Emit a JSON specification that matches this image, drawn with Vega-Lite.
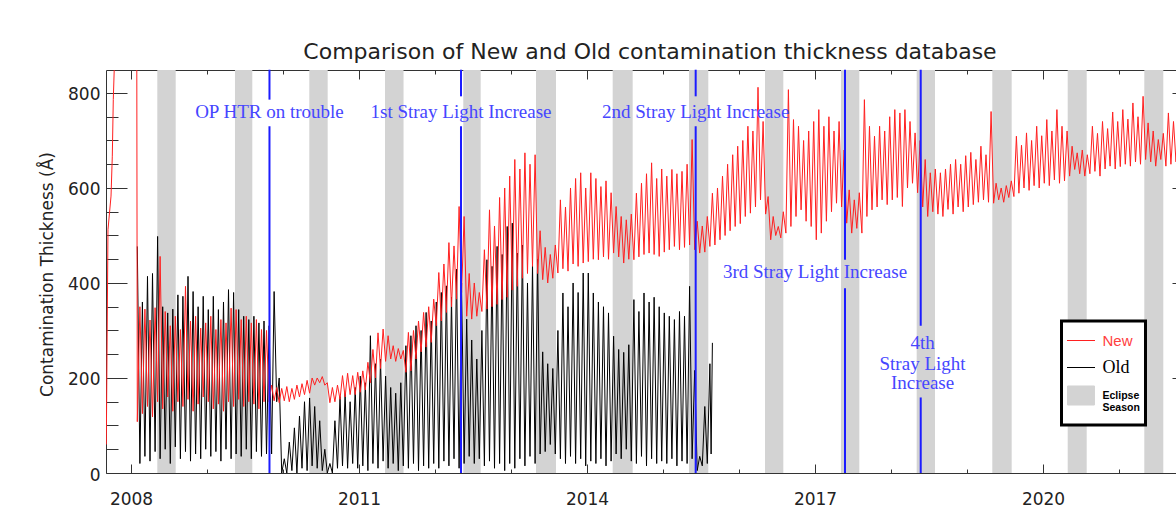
{
"$schema":"https://vega.github.io/schema/vega-lite/v6.json",
"width":1070,"height":403,
"autosize":{"type":"none"},
"padding":{"left":106,"top":70,"right":0,"bottom":40},
"background":"white",
"title":{"text":"Comparison of New and Old contamination thickness database","font":"DejaVu Sans","fontSize":22,"fontWeight":"normal","color":"#222222","anchor":"middle","dx":9,"offset":-12,"baseline":"alphabetic"},
"datasets":{
"bands":[{"a":2008.346,"b":2008.588},{"a":2009.368,"b":2009.596},{"a":2010.346,"b":2010.588},{"a":2011.342,"b":2011.586},{"a":2012.372,"b":2012.601},{"a":2013.329,"b":2013.592},{"a":2014.338,"b":2014.601},{"a":2015.342,"b":2015.596},{"a":2016.342,"b":2016.583},{"a":2017.342,"b":2017.583},{"a":2018.338,"b":2018.579},{"a":2019.333,"b":2019.588},{"a":2020.325,"b":2020.575},{"a":2021.333,"b":2021.583}],
"ev":[{"t":2009.822,"y1":0,"y2":730},{"t":2009.822,"y1":786,"y2":849},{"t":2012.342,"y1":0,"y2":730},{"t":2012.342,"y1":793,"y2":849},{"t":2015.43,"y1":0,"y2":730},{"t":2015.43,"y1":793,"y2":849},{"t":2017.395,"y1":0,"y2":389},{"t":2017.395,"y1":449,"y2":849},{"t":2018.391,"y1":0,"y2":159},{"t":2018.391,"y1":310,"y2":849}],
"lab":[{"t":2009.822,"v":747,"label":"OP HTR on trouble"},{"t":2012.342,"v":747,"label":"1st Stray Light Increase"},{"t":2015.43,"v":747,"label":"2nd Stray Light Increase"},{"t":2017.0,"v":410,"label":"3rd Stray Light Increase"},{"t":2018.415,"v":261,"label":"4th"},{"t":2018.415,"v":217,"label":"Stray Light"},{"t":2018.415,"v":177,"label":"Increase"}],
"old":[
{"t":2008.083,"v":477},{"t":2008.117,"v":20},{"t":2008.15,"v":360},{"t":2008.183,"v":35},{"t":2008.217,"v":414},{"t":2008.25,"v":25},{"t":2008.283,"v":420},{"t":2008.317,"v":45},{"t":2008.35,"v":498},{"t":2008.383,"v":30},{"t":2008.417,"v":350},{"t":2008.45,"v":50},{"t":2008.483,"v":337},{"t":2008.517,"v":20},{"t":2008.55,"v":345},{"t":2008.583,"v":55},{"t":2008.617,"v":375},{"t":2008.65,"v":30},{"t":2008.683,"v":372},{"t":2008.717,"v":45},{"t":2008.75,"v":414},{"t":2008.783,"v":25},{"t":2008.817,"v":382},{"t":2008.85,"v":40},{"t":2008.883,"v":350},{"t":2008.917,"v":30},{"t":2008.95,"v":372},{"t":2008.983,"v":50},
{"t":2009.017,"v":344},{"t":2009.05,"v":35},{"t":2009.083,"v":372},{"t":2009.117,"v":45},{"t":2009.15,"v":344},{"t":2009.183,"v":25},{"t":2009.217,"v":360},{"t":2009.25,"v":50},{"t":2009.283,"v":386},{"t":2009.317,"v":30},{"t":2009.35,"v":380},{"t":2009.383,"v":40},{"t":2009.417,"v":344},{"t":2009.45,"v":35},{"t":2009.483,"v":330},{"t":2009.517,"v":50},{"t":2009.55,"v":323},{"t":2009.583,"v":30},{"t":2009.617,"v":330},{"t":2009.65,"v":45},{"t":2009.683,"v":316},{"t":2009.717,"v":35},{"t":2009.75,"v":320},{"t":2009.783,"v":40},{"t":2009.817,"v":310},{"t":2009.85,"v":40},{"t":2009.883,"v":382},{"t":2009.917,"v":150},{"t":2009.95,"v":200},{"t":2009.983,"v":0},
{"t":2010.017,"v":30},{"t":2010.05,"v":0},{"t":2010.083,"v":65},{"t":2010.117,"v":5},{"t":2010.15,"v":95},{"t":2010.183,"v":0},{"t":2010.217,"v":120},{"t":2010.25,"v":10},{"t":2010.283,"v":150},{"t":2010.317,"v":5},{"t":2010.35,"v":158},{"t":2010.383,"v":15},{"t":2010.417,"v":140},{"t":2010.45,"v":10},{"t":2010.483,"v":110},{"t":2010.517,"v":5},{"t":2010.55,"v":50},{"t":2010.583,"v":0},{"t":2010.617,"v":20},{"t":2010.65,"v":0},{"t":2010.683,"v":110},{"t":2010.717,"v":10},{"t":2010.75,"v":161},{"t":2010.783,"v":15},{"t":2010.817,"v":168},{"t":2010.85,"v":10},{"t":2010.883,"v":150},{"t":2010.917,"v":20},{"t":2010.95,"v":180},{"t":2010.983,"v":10},
{"t":2011.017,"v":204},{"t":2011.05,"v":15},{"t":2011.083,"v":190},{"t":2011.117,"v":5},{"t":2011.15,"v":289},{"t":2011.183,"v":20},{"t":2011.217,"v":230},{"t":2011.25,"v":10},{"t":2011.283,"v":240},{"t":2011.317,"v":25},{"t":2011.35,"v":204},{"t":2011.383,"v":10},{"t":2011.417,"v":180},{"t":2011.45,"v":20},{"t":2011.483,"v":168},{"t":2011.517,"v":5},{"t":2011.55,"v":190},{"t":2011.583,"v":15},{"t":2011.617,"v":268},{"t":2011.65,"v":10},{"t":2011.683,"v":289},{"t":2011.717,"v":20},{"t":2011.75,"v":310},{"t":2011.783,"v":5},{"t":2011.817,"v":300},{"t":2011.85,"v":15},{"t":2011.883,"v":338},{"t":2011.917,"v":10},{"t":2011.95,"v":320},{"t":2011.983,"v":20},
{"t":2012.017,"v":360},{"t":2012.05,"v":10},{"t":2012.083,"v":380},{"t":2012.117,"v":25},{"t":2012.15,"v":394},{"t":2012.183,"v":15},{"t":2012.217,"v":370},{"t":2012.25,"v":30},{"t":2012.283,"v":429},{"t":2012.317,"v":10},{"t":2012.35,"v":400},{"t":2012.383,"v":20},{"t":2012.417,"v":324},{"t":2012.45,"v":35},{"t":2012.483,"v":280},{"t":2012.517,"v":20},{"t":2012.55,"v":240},{"t":2012.583,"v":30},{"t":2012.617,"v":300},{"t":2012.65,"v":15},{"t":2012.683,"v":449},{"t":2012.717,"v":25},{"t":2012.75,"v":435},{"t":2012.783,"v":10},{"t":2012.817,"v":477},{"t":2012.85,"v":20},{"t":2012.883,"v":460},{"t":2012.917,"v":5},{"t":2012.95,"v":519},{"t":2012.983,"v":20},
{"t":2013.017,"v":526},{"t":2013.05,"v":10},{"t":2013.083,"v":463},{"t":2013.117,"v":30},{"t":2013.15,"v":480},{"t":2013.183,"v":15},{"t":2013.217,"v":400},{"t":2013.25,"v":35},{"t":2013.283,"v":440},{"t":2013.317,"v":20},{"t":2013.35,"v":450},{"t":2013.383,"v":40},{"t":2013.417,"v":255},{"t":2013.45,"v":45},{"t":2013.483,"v":230},{"t":2013.517,"v":60},{"t":2013.55,"v":220},{"t":2013.583,"v":40},{"t":2013.617,"v":300},{"t":2013.65,"v":30},{"t":2013.683,"v":379},{"t":2013.717,"v":20},{"t":2013.75,"v":350},{"t":2013.783,"v":35},{"t":2013.817,"v":400},{"t":2013.85,"v":20},{"t":2013.883,"v":380},{"t":2013.917,"v":30},{"t":2013.95,"v":421},{"t":2013.983,"v":15},
{"t":2014.017,"v":421},{"t":2014.05,"v":25},{"t":2014.083,"v":379},{"t":2014.117,"v":20},{"t":2014.15,"v":360},{"t":2014.183,"v":30},{"t":2014.217,"v":350},{"t":2014.25,"v":15},{"t":2014.283,"v":337},{"t":2014.317,"v":25},{"t":2014.35,"v":288},{"t":2014.383,"v":40},{"t":2014.417,"v":260},{"t":2014.45,"v":30},{"t":2014.483,"v":254},{"t":2014.517,"v":50},{"t":2014.55,"v":270},{"t":2014.583,"v":25},{"t":2014.617,"v":365},{"t":2014.65,"v":20},{"t":2014.683,"v":340},{"t":2014.717,"v":35},{"t":2014.75,"v":379},{"t":2014.783,"v":15},{"t":2014.817,"v":360},{"t":2014.85,"v":30},{"t":2014.883,"v":370},{"t":2014.917,"v":20},{"t":2014.95,"v":350},{"t":2014.983,"v":25},
{"t":2015.017,"v":337},{"t":2015.05,"v":20},{"t":2015.083,"v":330},{"t":2015.117,"v":30},{"t":2015.15,"v":323},{"t":2015.183,"v":15},{"t":2015.217,"v":340},{"t":2015.25,"v":25},{"t":2015.283,"v":330},{"t":2015.317,"v":20},{"t":2015.35,"v":393},{"t":2015.383,"v":30},{"t":2015.417,"v":216},{"t":2015.45,"v":5},{"t":2015.483,"v":35},{"t":2015.517,"v":15},{"t":2015.55,"v":140},{"t":2015.583,"v":20},{"t":2015.617,"v":230},{"t":2015.633,"v":40},{"t":2015.65,"v":274}
],
"new":[
{"t":2007.675,"v":60},{"t":2007.697,"v":512},{"t":2007.737,"v":583},{"t":2007.754,"v":667},{"t":2007.767,"v":786},{"t":2007.785,"v":880},{"t":2007.85,"v":960},{"t":2008.075,"v":990},
{"t":2008.083,"v":108},{"t":2008.117,"v":350},{"t":2008.15,"v":125},{"t":2008.183,"v":345},{"t":2008.217,"v":140},{"t":2008.25,"v":322},{"t":2008.283,"v":118},{"t":2008.317,"v":348},{"t":2008.35,"v":150},{"t":2008.383,"v":456},{"t":2008.417,"v":135},{"t":2008.45,"v":340},{"t":2008.483,"v":160},{"t":2008.517,"v":310},{"t":2008.55,"v":130},{"t":2008.583,"v":330},{"t":2008.617,"v":150},{"t":2008.65,"v":302},{"t":2008.683,"v":140},{"t":2008.717,"v":393},{"t":2008.75,"v":155},{"t":2008.783,"v":320},{"t":2008.817,"v":130},{"t":2008.85,"v":330},{"t":2008.883,"v":145},{"t":2008.917,"v":305},{"t":2008.95,"v":160},{"t":2008.983,"v":316},
{"t":2009.017,"v":150},{"t":2009.05,"v":330},{"t":2009.083,"v":135},{"t":2009.117,"v":302},{"t":2009.15,"v":145},{"t":2009.183,"v":323},{"t":2009.217,"v":130},{"t":2009.25,"v":316},{"t":2009.283,"v":150},{"t":2009.317,"v":347},{"t":2009.35,"v":140},{"t":2009.383,"v":344},{"t":2009.417,"v":155},{"t":2009.45,"v":323},{"t":2009.483,"v":140},{"t":2009.517,"v":330},{"t":2009.55,"v":150},{"t":2009.583,"v":316},{"t":2009.617,"v":145},{"t":2009.65,"v":323},{"t":2009.683,"v":135},{"t":2009.717,"v":302},{"t":2009.75,"v":150},{"t":2009.783,"v":300},{"t":2009.817,"v":150},{"t":2009.85,"v":185},{"t":2009.883,"v":152},{"t":2009.917,"v":180},{"t":2009.95,"v":148},{"t":2009.983,"v":178},
{"t":2010.017,"v":152},{"t":2010.05,"v":182},{"t":2010.083,"v":150},{"t":2010.117,"v":178},{"t":2010.15,"v":155},{"t":2010.183,"v":185},{"t":2010.217,"v":160},{"t":2010.25,"v":188},{"t":2010.283,"v":165},{"t":2010.317,"v":195},{"t":2010.35,"v":168},{"t":2010.383,"v":200},{"t":2010.417,"v":185},{"t":2010.45,"v":200},{"t":2010.483,"v":190},{"t":2010.517,"v":203},{"t":2010.55,"v":185},{"t":2010.583,"v":190},{"t":2010.617,"v":148},{"t":2010.65,"v":180},{"t":2010.683,"v":150},{"t":2010.717,"v":185},{"t":2010.75,"v":155},{"t":2010.783,"v":205},{"t":2010.817,"v":160},{"t":2010.85,"v":210},{"t":2010.883,"v":165},{"t":2010.917,"v":205},{"t":2010.95,"v":165},{"t":2010.983,"v":212},
{"t":2011.017,"v":170},{"t":2011.05,"v":215},{"t":2011.083,"v":175},{"t":2011.117,"v":233},{"t":2011.15,"v":190},{"t":2011.183,"v":260},{"t":2011.217,"v":200},{"t":2011.25,"v":295},{"t":2011.283,"v":220},{"t":2011.317,"v":303},{"t":2011.35,"v":235},{"t":2011.383,"v":289},{"t":2011.417,"v":240},{"t":2011.45,"v":268},{"t":2011.483,"v":235},{"t":2011.517,"v":262},{"t":2011.55,"v":240},{"t":2011.583,"v":258},{"t":2011.617,"v":212},{"t":2011.65,"v":296},{"t":2011.683,"v":215},{"t":2011.717,"v":300},{"t":2011.75,"v":240},{"t":2011.783,"v":320},{"t":2011.817,"v":255},{"t":2011.85,"v":338},{"t":2011.883,"v":265},{"t":2011.917,"v":350},{"t":2011.95,"v":275},{"t":2011.983,"v":366},
{"t":2012.017,"v":310},{"t":2012.05,"v":422},{"t":2012.083,"v":320},{"t":2012.117,"v":440},{"t":2012.15,"v":338},{"t":2012.183,"v":485},{"t":2012.217,"v":350},{"t":2012.25,"v":478},{"t":2012.283,"v":366},{"t":2012.317,"v":561},{"t":2012.35,"v":380},{"t":2012.383,"v":540},{"t":2012.417,"v":330},{"t":2012.45,"v":420},{"t":2012.483,"v":324},{"t":2012.517,"v":400},{"t":2012.55,"v":330},{"t":2012.583,"v":380},{"t":2012.617,"v":340},{"t":2012.65,"v":470},{"t":2012.683,"v":345},{"t":2012.717,"v":554},{"t":2012.75,"v":350},{"t":2012.783,"v":520},{"t":2012.817,"v":355},{"t":2012.85,"v":580},{"t":2012.883,"v":365},{"t":2012.917,"v":600},{"t":2012.95,"v":370},{"t":2012.983,"v":625},
{"t":2013.017,"v":385},{"t":2013.05,"v":660},{"t":2013.083,"v":393},{"t":2013.117,"v":640},{"t":2013.15,"v":410},{"t":2013.183,"v":674},{"t":2013.217,"v":420},{"t":2013.25,"v":650},{"t":2013.283,"v":435},{"t":2013.317,"v":670},{"t":2013.35,"v":420},{"t":2013.383,"v":510},{"t":2013.417,"v":407},{"t":2013.45,"v":475},{"t":2013.483,"v":400},{"t":2013.517,"v":460},{"t":2013.55,"v":410},{"t":2013.583,"v":480},{"t":2013.617,"v":421},{"t":2013.65,"v":575},{"t":2013.683,"v":430},{"t":2013.717,"v":560},{"t":2013.75,"v":425},{"t":2013.783,"v":600},{"t":2013.817,"v":440},{"t":2013.85,"v":620},{"t":2013.883,"v":435},{"t":2013.917,"v":632},{"t":2013.95,"v":442},{"t":2013.983,"v":600},
{"t":2014.017,"v":445},{"t":2014.05,"v":632},{"t":2014.083,"v":450},{"t":2014.117,"v":620},{"t":2014.15,"v":449},{"t":2014.183,"v":603},{"t":2014.217,"v":455},{"t":2014.25,"v":615},{"t":2014.283,"v":450},{"t":2014.317,"v":590},{"t":2014.35,"v":463},{"t":2014.383,"v":561},{"t":2014.417,"v":455},{"t":2014.45,"v":540},{"t":2014.483,"v":442},{"t":2014.517,"v":533},{"t":2014.55,"v":450},{"t":2014.583,"v":545},{"t":2014.617,"v":449},{"t":2014.65,"v":589},{"t":2014.683,"v":455},{"t":2014.717,"v":610},{"t":2014.75,"v":460},{"t":2014.783,"v":630},{"t":2014.817,"v":463},{"t":2014.85,"v":653},{"t":2014.883,"v":460},{"t":2014.917,"v":620},{"t":2014.95,"v":456},{"t":2014.983,"v":640},
{"t":2015.017,"v":465},{"t":2015.05,"v":625},{"t":2015.083,"v":470},{"t":2015.117,"v":639},{"t":2015.15,"v":477},{"t":2015.183,"v":630},{"t":2015.217,"v":470},{"t":2015.25,"v":635},{"t":2015.283,"v":475},{"t":2015.317,"v":650},{"t":2015.35,"v":480},{"t":2015.383,"v":702},{"t":2015.417,"v":470},{"t":2015.45,"v":530},{"t":2015.483,"v":463},{"t":2015.517,"v":520},{"t":2015.55,"v":465},{"t":2015.583,"v":540},{"t":2015.617,"v":477},{"t":2015.65,"v":589},{"t":2015.683,"v":480},{"t":2015.717,"v":600},{"t":2015.75,"v":491},{"t":2015.783,"v":625},{"t":2015.817,"v":500},{"t":2015.85,"v":650},{"t":2015.883,"v":510},{"t":2015.917,"v":670},{"t":2015.95,"v":519},{"t":2015.983,"v":688},
{"t":2016.017,"v":525},{"t":2016.05,"v":700},{"t":2016.083,"v":540},{"t":2016.117,"v":730},{"t":2016.15,"v":547},{"t":2016.183,"v":720},{"t":2016.217,"v":560},{"t":2016.25,"v":812},{"t":2016.283,"v":575},{"t":2016.317,"v":740},{"t":2016.35,"v":545},{"t":2016.383,"v":582},{"t":2016.417,"v":491},{"t":2016.45,"v":540},{"t":2016.483,"v":500},{"t":2016.517,"v":519},{"t":2016.55,"v":495},{"t":2016.583,"v":550},{"t":2016.617,"v":505},{"t":2016.65,"v":807},{"t":2016.683,"v":519},{"t":2016.717,"v":744},{"t":2016.75,"v":540},{"t":2016.783,"v":730},{"t":2016.817,"v":554},{"t":2016.85,"v":700},{"t":2016.883,"v":530},{"t":2016.917,"v":720},{"t":2016.95,"v":519},{"t":2016.983,"v":740},
{"t":2017.017,"v":491},{"t":2017.05,"v":765},{"t":2017.083,"v":505},{"t":2017.117,"v":730},{"t":2017.15,"v":530},{"t":2017.183,"v":750},{"t":2017.217,"v":550},{"t":2017.25,"v":720},{"t":2017.283,"v":568},{"t":2017.317,"v":740},{"t":2017.35,"v":560},{"t":2017.383,"v":680},{"t":2017.417,"v":526},{"t":2017.45,"v":596},{"t":2017.483,"v":505},{"t":2017.517,"v":575},{"t":2017.55,"v":515},{"t":2017.583,"v":590},{"t":2017.617,"v":505},{"t":2017.65,"v":786},{"t":2017.683,"v":540},{"t":2017.717,"v":730},{"t":2017.75,"v":554},{"t":2017.783,"v":709},{"t":2017.817,"v":560},{"t":2017.85,"v":730},{"t":2017.883,"v":575},{"t":2017.917,"v":720},{"t":2017.95,"v":565},{"t":2017.983,"v":750},
{"t":2018.017,"v":575},{"t":2018.05,"v":765},{"t":2018.083,"v":580},{"t":2018.117,"v":758},{"t":2018.15,"v":561},{"t":2018.183,"v":765},{"t":2018.217,"v":600},{"t":2018.25,"v":740},{"t":2018.283,"v":610},{"t":2018.317,"v":716},{"t":2018.35,"v":590},{"t":2018.383,"v":700},{"t":2018.417,"v":560},{"t":2018.45,"v":660},{"t":2018.483,"v":540},{"t":2018.517,"v":632},{"t":2018.55,"v":550},{"t":2018.583,"v":640},{"t":2018.617,"v":545},{"t":2018.65,"v":632},{"t":2018.683,"v":540},{"t":2018.717,"v":640},{"t":2018.75,"v":555},{"t":2018.783,"v":650},{"t":2018.817,"v":545},{"t":2018.85,"v":660},{"t":2018.883,"v":560},{"t":2018.917,"v":650},{"t":2018.95,"v":550},{"t":2018.983,"v":668},
{"t":2019.017,"v":560},{"t":2019.05,"v":675},{"t":2019.083,"v":565},{"t":2019.117,"v":660},{"t":2019.15,"v":570},{"t":2019.183,"v":688},{"t":2019.217,"v":575},{"t":2019.25,"v":670},{"t":2019.283,"v":570},{"t":2019.317,"v":761},{"t":2019.35,"v":568},{"t":2019.383,"v":610},{"t":2019.417,"v":575},{"t":2019.45,"v":600},{"t":2019.483,"v":570},{"t":2019.517,"v":605},{"t":2019.55,"v":580},{"t":2019.583,"v":615},{"t":2019.617,"v":582},{"t":2019.65,"v":709},{"t":2019.683,"v":589},{"t":2019.717,"v":690},{"t":2019.75,"v":600},{"t":2019.783,"v":716},{"t":2019.817,"v":595},{"t":2019.85,"v":700},{"t":2019.883,"v":605},{"t":2019.917,"v":730},{"t":2019.95,"v":600},{"t":2019.983,"v":710},
{"t":2020.017,"v":610},{"t":2020.05,"v":744},{"t":2020.083,"v":605},{"t":2020.117,"v":720},{"t":2020.15,"v":617},{"t":2020.183,"v":765},{"t":2020.217,"v":610},{"t":2020.25,"v":730},{"t":2020.283,"v":615},{"t":2020.317,"v":720},{"t":2020.35,"v":625},{"t":2020.383,"v":688},{"t":2020.417,"v":639},{"t":2020.45,"v":674},{"t":2020.483,"v":630},{"t":2020.517,"v":680},{"t":2020.55,"v":625},{"t":2020.583,"v":670},{"t":2020.617,"v":630},{"t":2020.65,"v":730},{"t":2020.683,"v":635},{"t":2020.717,"v":715},{"t":2020.75,"v":625},{"t":2020.783,"v":740},{"t":2020.817,"v":640},{"t":2020.85,"v":725},{"t":2020.883,"v":646},{"t":2020.917,"v":760},{"t":2020.95,"v":640},{"t":2020.983,"v":740},
{"t":2021.017,"v":645},{"t":2021.05,"v":765},{"t":2021.083,"v":650},{"t":2021.117,"v":745},{"t":2021.15,"v":646},{"t":2021.183,"v":779},{"t":2021.217,"v":655},{"t":2021.25,"v":750},{"t":2021.283,"v":650},{"t":2021.317,"v":793},{"t":2021.35,"v":660},{"t":2021.383,"v":737},{"t":2021.417,"v":655},{"t":2021.45,"v":720},{"t":2021.483,"v":646},{"t":2021.517,"v":702},{"t":2021.55,"v":660},{"t":2021.583,"v":715},{"t":2021.617,"v":646},{"t":2021.65,"v":758},{"t":2021.683,"v":650},{"t":2021.717,"v":740},{"t":2021.75,"v":655},{"t":2021.783,"v":750}
]
},
"resolve":{"axis":{"x":"independent","y":"independent"}},
"layer":[
{"data":{"name":"bands"},"mark":{"type":"rect","color":"#d3d3d3"},
 "encoding":{
  "x":{"field":"a","type":"quantitative","scale":{"domain":[2007.671,2021.75],"nice":false,"zero":false},
   "axis":{"orient":"bottom","values":[2008,2009,2010,2011,2012,2013,2014,2015,2016,2017,2018,2019,2020,2021],"format":"d","labelExpr":"datum.value % 3 === 1 ? datum.label : ''","tickSize":{"condition":{"test":"datum.value % 3 === 1","value":-9},"value":-4},"labelPadding":27,"labelFont":"DejaVu Sans","labelFontSize":17,"labelColor":"#222222","labelBaseline":"top","labelFlush":false,"labelOverlap":false,"domainColor":"#333333","tickColor":"#333333","domainWidth":1,"tickWidth":1,"grid":false,"title":null}},
  "x2":{"field":"b"}}},
{"data":{"name":"old"},"mark":{"type":"line","strokeWidth":1,"clip":true},
 "encoding":{
  "x":{"field":"t","type":"quantitative","scale":{"domain":[2007.671,2021.75],"nice":false,"zero":false},
   "axis":{"orient":"top","values":[2008,2009,2010,2011,2012,2013,2014,2015,2016,2017,2018,2019,2020,2021],"labels":false,"tickSize":{"condition":{"test":"datum.value % 3 === 1","value":-9},"value":-4},"domainColor":"#333333","tickColor":"#333333","domainWidth":1,"tickWidth":1,"grid":false,"title":null}},
  "y":{"field":"v","type":"quantitative","scale":{"domain":[0,848.4],"nice":false,"zero":false},
   "axis":{"orient":"left","values":[0,50,100,150,200,250,300,350,400,450,500,550,600,650,700,750,800],"labelExpr":"datum.value % 200 === 0 ? datum.label : ''","tickSize":{"condition":{"test":"datum.value % 200 === 0","value":-21},"value":-12},"labelPadding":27,"labelFont":"DejaVu Sans","labelFontSize":17,"labelColor":"#222222","labelBaseline":"middle","labelOffset":2,"labelOverlap":false,"domainColor":"#333333","tickColor":"#333333","domainWidth":1,"tickWidth":1,"grid":false,
    "title":"Contamination Thickness (Å)","titleX":-59,"titleY":204,"titleAngle":270,"titleAlign":"center","titleBaseline":"middle","titleFont":"DejaVu Sans","titleFontSize":17,"titleFontWeight":"normal","titleColor":"#222222"}},
  "stroke":{"datum":"Old","type":"nominal","scale":{"domain":["New","Old","Eclipse Season"],"range":["#ff2020","#000000","#d3d3d3"]},
   "legend":{"orient":"none","legendX":955.5,"legendY":251,"title":" ","titleOrient":"bottom","titleFontSize":5,"titlePadding":2,"fillColor":"white","strokeColor":"black","padding":5,"symbolSize":784,"symbolStrokeWidth":1,"labelOffset":7,"rowPadding":4,
    "labelExpr":"datum.label === 'Eclipse Season' ? ['Eclipse','Season'] : datum.label",
    "encode":{
     "legend":{"update":{"strokeWidth":{"value":3}}},
     "symbols":{"update":{"shape":{"signal":"datum.value === 'Eclipse Season' ? 'M-0.96,-0.68H0.96V0.68H-0.96Z' : 'M-1,0H1'"},"fill":{"signal":"datum.value === 'Eclipse Season' ? '#d3d3d3' : 'transparent'"},"stroke":{"signal":"datum.value === 'New' ? '#ff3030' : datum.value === 'Old' ? '#000000' : 'transparent'"},"strokeWidth":{"value":1},"opacity":{"value":1}}},
     "labels":{"update":{"fill":{"signal":"datum.value === 'New' ? '#ff4040' : '#000000'"},"font":{"signal":"datum.value === 'Old' ? 'Liberation Serif' : 'Liberation Sans'"},"fontSize":{"signal":"datum.value === 'New' ? 15 : datum.value === 'Old' ? 18 : 10.5"},"fontWeight":{"signal":"datum.value === 'Eclipse Season' ? 'bold' : 'normal'"},"lineHeight":{"value":12}}}
    }}}}},
{"data":{"name":"new"},"mark":{"type":"line","strokeWidth":1,"clip":true},
 "encoding":{
  "x":{"field":"t","type":"quantitative","scale":{"domain":[2007.671,2021.75],"nice":false,"zero":false},"axis":null},
  "y":{"field":"v","type":"quantitative","scale":{"domain":[0,848.4],"nice":false,"zero":false},
   "axis":{"orient":"right","values":[200,400,600,800],"labels":false,"domain":false,"tickSize":-4,"tickColor":"#333333","tickWidth":1,"grid":false,"title":null}},
  "stroke":{"datum":"New","type":"nominal","scale":{"domain":["New","Old","Eclipse Season"],"range":["#ff2020","#000000","#d3d3d3"]}}}},
{"data":{"name":"ev"},"mark":{"type":"rule","color":"#1c1cff","strokeWidth":2},
 "encoding":{
  "x":{"field":"t","type":"quantitative","scale":{"domain":[2007.671,2021.75],"nice":false,"zero":false},"axis":null},
  "y":{"field":"y1","type":"quantitative","scale":{"domain":[0,848.4],"nice":false,"zero":false},"axis":null},
  "y2":{"field":"y2"}}},
{"data":{"name":"lab"},"mark":{"type":"text","font":"Liberation Serif","fontSize":19,"color":"#4646ff","align":"center","baseline":"alphabetic"},
 "encoding":{
  "x":{"field":"t","type":"quantitative","scale":{"domain":[2007.671,2021.75],"nice":false,"zero":false},"axis":null},
  "y":{"field":"v","type":"quantitative","scale":{"domain":[0,848.4],"nice":false,"zero":false},"axis":null},
  "text":{"field":"label"}}}
],
"config":{"view":{"stroke":null}}
}
